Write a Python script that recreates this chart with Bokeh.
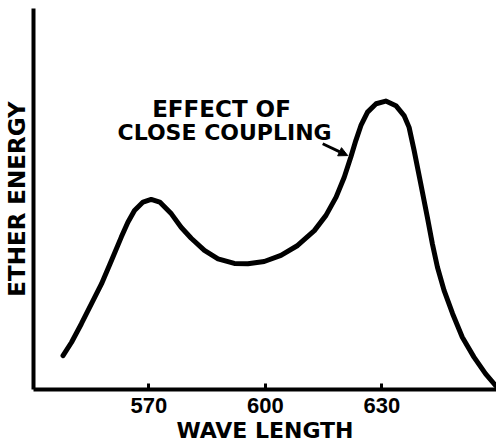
from bokeh.plotting import figure
from bokeh.models import Range1d, FixedTicker, Arrow, NormalHead, Label
from bokeh.embed import file_html
from bokeh.resources import INLINE

# Curve
wavelength = [547.9, 550.1, 552.6, 555.2, 557.8, 560.4, 562.9, 564.6, 566.3, 568.5,
              570.6, 572.8, 575.8, 578.3, 580.9, 584.3, 587.8, 592.0, 595.5, 599.7,
              604.0, 608.3, 612.6, 615.6, 618.2, 620.3, 622.0, 623.3, 624.6, 626.3,
              628.5, 631.0, 633.6, 635.7, 637.0, 638.3, 640.0, 641.7, 643.0, 644.3,
              646.0, 648.2, 650.7, 653.7, 656.7, 659.3]
energy = [8.9, 12.4, 17.2, 22.5, 27.7, 33.9, 40.0, 43.9, 47.0, 49.2,
          49.9, 49.2, 46.1, 42.6, 39.7, 36.5, 34.3, 33.1, 33.0, 33.6,
          35.2, 37.8, 41.7, 45.7, 50.5, 55.7, 61.0, 65.4, 69.3, 72.8,
          75.0, 75.7, 74.5, 71.9, 68.8, 62.7, 54.0, 45.2, 38.2, 32.1,
          26.0, 19.9, 13.7, 8.5, 4.1, 1.0]
tick_values = [570, 600, 630]
annotation_lines = ["EFFECT OF", "CLOSE COUPLING"]
x_title = "WAVE LENGTH"
y_title = "ETHER ENERGY"

LETTER_FONT = "DejaVu Sans"
DIGIT_FONT = "Liberation Sans"

p = figure(width=496, height=445, output_backend="svg", toolbar_location=None,
           x_range=Range1d(540.3, 659.5), y_range=Range1d(0, 100),
           min_border_left=32, min_border_right=0, min_border_top=8, min_border_bottom=56)
p.outline_line_color = None
p.grid.grid_line_color = None
p.background_fill_color = "white"
p.border_fill_color = "white"

# x axis
xa = p.xaxis[0]
xa.ticker = FixedTicker(ticks=tick_values)
xa.axis_line_width = 4
xa.axis_line_color = "black"
xa.major_tick_in = 6
xa.major_tick_out = 0
xa.major_tick_line_width = 3
xa.minor_tick_line_color = None
xa.major_label_text_font = DIGIT_FONT
xa.major_label_text_font_style = "bold"
xa.major_label_text_font_size = "22px"
xa.major_label_text_color = "black"
xa.major_label_standoff = 8
xa.axis_label = x_title
xa.axis_label_text_font = LETTER_FONT
xa.axis_label_text_font_style = "bold"
xa.axis_label_text_font_size = "22px"
xa.axis_label_text_color = "black"
xa.axis_label_standoff = 2

# y axis
ya = p.yaxis[0]
ya.ticker = FixedTicker(ticks=[])
ya.axis_line_width = 4
ya.axis_line_color = "black"
ya.major_tick_in = 0
ya.major_tick_out = 0
ya.minor_tick_line_color = None
ya.major_label_text_font_size = "0px"
ya.major_label_standoff = 0
ya.axis_label = y_title
ya.axis_label_text_font = LETTER_FONT
ya.axis_label_text_font_style = "bold"
ya.axis_label_text_font_size = "23px"
ya.axis_label_text_color = "black"
ya.axis_label_standoff = 4

p.line(wavelength, energy, line_color="black", line_width=5,
       line_cap="round", line_join="round")

p.add_layout(Arrow(end=NormalHead(size=9, fill_color="black", line_color="black", line_width=1),
                   x_start=614.75, y_start=64.5, x_end=621.2, y_end=61.4,
                   line_color="black", line_width=3))

for txt, xx, yy, fs in zip(annotation_lines, [588.7, 589.5], [73.5, 67.5], ["23px", "22px"]):
    p.add_layout(Label(x=xx, y=yy, text=txt, text_align="center", text_baseline="alphabetic",
                       text_font=LETTER_FONT, text_font_style="bold", text_font_size=fs,
                       text_color="black"))

open("out.html", "w").write(file_html(p, INLINE))
